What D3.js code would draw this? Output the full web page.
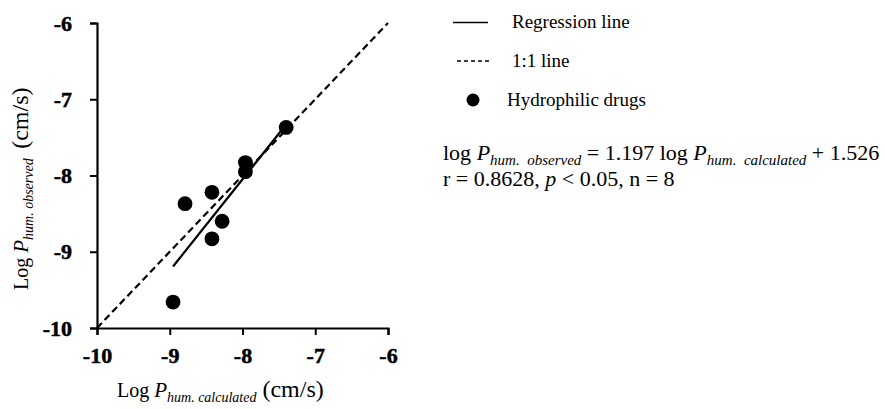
<html>
<head>
<script src="https://cdn.jsdelivr.net/npm/d3@7"></script>
<style>
  body { margin: 0; background: #fff; }
  text { font-family: "Liberation Serif", "Times New Roman", serif; fill: #000; }
  .tick text { font: bold 22px "Liberation Serif", serif; stroke: #000; stroke-width: 0.5px; }
</style>
</head>
<body>
<svg id="chart" width="885" height="409"></svg>
<script>
  // data: log P calculated vs log P observed
  var calculated = [-7.40, -7.96, -7.96, -8.42, -8.79, -8.28, -8.42, -8.955];
  var observed   = [-7.37, -7.83, -7.95, -8.22, -8.37, -8.60, -8.83, -9.66];
  var tickValues = [-10, -9, -8, -7, -6];
  var slope = 1.197, intercept = 1.526;
  var regRange = [-8.955, -7.40];
  var legendLabels = ["Regression line", "1:1 line", "Hydrophilic drugs"];

  var svg = d3.select("#chart");

  var x = d3.scaleLinear().domain([-10, -6]).range([97, 388]);
  var y = d3.scaleLinear().domain([-10, -6]).range([328, 23]);

  // axes
  var xAxis = d3.axisBottom(x).tickValues(tickValues).tickFormat(d3.format("d")).tickSize(7).tickSizeOuter(7);
  var yAxis = d3.axisLeft(y).tickValues(tickValues).tickFormat(d3.format("d")).tickSize(7).tickSizeOuter(7);

  var gx = svg.append("g").attr("transform", "translate(0," + y(-10) + ")").call(xAxis);
  var gy = svg.append("g").attr("transform", "translate(" + x(-10) + ",0)").call(yAxis);

  [gx, gy].forEach(g => {
    g.attr("font-family", null).attr("font-size", null);
    g.select(".domain").attr("stroke-width", 2.2);
    g.selectAll(".tick line").attr("stroke-width", 2);
    g.selectAll(".tick text").text(d => "-" + Math.abs(d));
  });
  gx.selectAll(".tick text").attr("dy", "0").attr("y", 35);
  gy.selectAll(".tick text").attr("x", -25);

  // 1:1 line
  svg.append("line")
    .attr("x1", x(-10)).attr("y1", y(-10))
    .attr("x2", x(-6)).attr("y2", y(-6))
    .attr("stroke", "#000").attr("stroke-width", 2.2)
    .attr("stroke-dasharray", "7,4");

  // regression line
  svg.append("line")
    .attr("x1", x(regRange[0])).attr("y1", y(slope * regRange[0] + intercept))
    .attr("x2", x(regRange[1])).attr("y2", y(slope * regRange[1] + intercept))
    .attr("stroke", "#000").attr("stroke-width", 2.2);

  // points
  svg.append("g").selectAll("circle")
    .data(calculated)
    .enter()
    .append("circle")
    .attr("cx", d => x(d))
    .attr("cy", (d, i) => y(observed[i]))
    .attr("r", 7.4)
    .attr("fill", "#000");

  // axis titles
  function axisTitle(t, sub) {
    t.append("tspan").style("font-size", "20px").text("Log ");
    t.append("tspan").style("font-style", "italic").style("font-size", "21px").text("P");
    t.append("tspan").style("font-style", "italic").style("font-size", "14px").attr("dy", 5).text(sub);
    t.append("tspan").attr("dy", -5).style("font-size", "24px").text(" (cm/s)");
  }
  var xt = svg.append("text").attr("x", 117).attr("y", 397).attr("xml:space", "preserve");
  axisTitle(xt, "hum. calculated");

  var yt = svg.append("text").attr("transform", "translate(28,290) rotate(-90)").attr("xml:space", "preserve");
  axisTitle(yt, "hum. observed ");

  // legend
  var lg = svg.append("g");
  lg.append("line").attr("x1", 453).attr("x2", 488).attr("y1", 22.5).attr("y2", 22.5)
    .attr("stroke", "#000").attr("stroke-width", 1.6);
  lg.append("line").attr("x1", 457).attr("x2", 489).attr("y1", 61).attr("y2", 61)
    .attr("stroke", "#000").attr("stroke-width", 1.3).attr("stroke-dasharray", "4,3");
  lg.append("circle").attr("cx", 473).attr("cy", 100).attr("r", 6.5).attr("fill", "#000");
  lg.selectAll("text.leg")
    .data(legendLabels)
    .enter()
    .append("text")
    .attr("class", "leg")
    .attr("x", (d, i) => i == 2 ? 507 : 512)
    .attr("y", (d, i) => [28, 67, 106][i])
    .style("font-size", "19px")
    .text(d => d);

  // equation
  var eq = svg.append("text").attr("x", 443).attr("y", 160).attr("xml:space", "preserve").style("font-size", "22px");
  eq.append("tspan").text("log ");
  eq.append("tspan").style("font-style", "italic").text("P");
  eq.append("tspan").style("font-style", "italic").style("font-size", "15px").attr("dy", 5).text("hum.  observed");
  eq.append("tspan").attr("dy", -5).text(" = " + slope.toFixed(3) + " log ");
  eq.append("tspan").style("font-style", "italic").text("P");
  eq.append("tspan").style("font-style", "italic").style("font-size", "15px").attr("dy", 5).text("hum.  calculated");
  eq.append("tspan").attr("dy", -5).text(" + " + intercept.toFixed(3));

  var st = svg.append("text").attr("x", 443).attr("y", 186).style("font-size", "22px");
  st.append("tspan").text("r = 0.8628, ");
  st.append("tspan").style("font-style", "italic").text("p");
  st.append("tspan").text(" < 0.05, n = " + calculated.length);
</script>
</body>
</html>
